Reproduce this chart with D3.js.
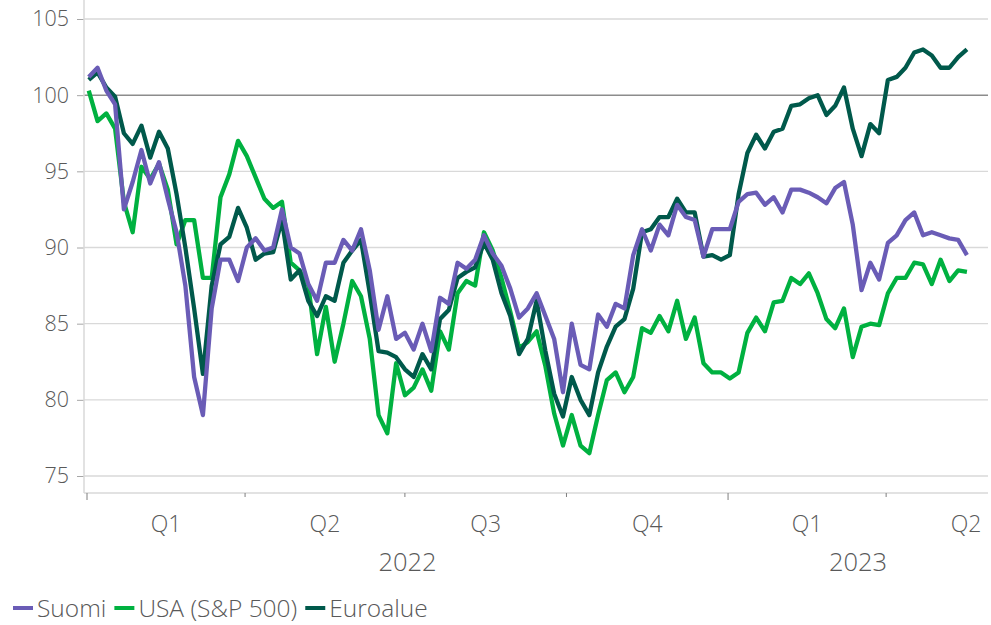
<!DOCTYPE html>
<html>
<head>
<meta charset="utf-8">
<script src="https://cdn.jsdelivr.net/npm/d3@7"></script>
<style>
  body { margin: 0; background: #fff; }
  svg text { font-family: "Open Sans", sans-serif; font-weight: 300; fill: #595959; }
</style>
</head>
<body>
<div id="chart"></div>
<script>
// series sampled every 5 days starting 2 Jan 2022
const startDate = new Date(2022, 0, 2);
const stepDays = 5;

const suomi = [101.2, 101.8, 100.3, 99.4, 92.5, 94.3, 96.4, 94.2, 95.6, 93.2,
  91.0, 87.5, 81.5, 79.0, 86.0, 89.2, 89.2, 87.8, 90.0, 90.6,
  89.8, 90.0, 92.5, 90.0, 89.6, 87.6, 86.5, 89.0, 89.0, 90.5,
  89.8, 91.2, 88.5, 84.6, 86.8, 84.0, 84.4, 83.3, 85.0, 83.2,
  86.7, 86.3, 89.0, 88.6, 89.2, 90.8, 89.6, 88.8, 87.3, 85.4,
  86.0, 87.0, 85.5, 84.0, 80.5, 85.0, 82.3, 82.0, 85.6, 84.8,
  86.3, 86.0, 89.5, 91.2, 89.8, 91.5, 90.8, 92.8, 92.0, 91.8,
  89.4, 91.2, 91.2, 91.2, 93.0, 93.5, 93.6, 92.8, 93.3, 92.3,
  93.8, 93.8, 93.6, 93.3, 92.9, 93.9, 94.3, 91.5, 87.2, 89.0,
  87.9, 90.3, 90.8, 91.8, 92.3, 90.8, 91.0, 90.8, 90.6, 90.5, 89.5];

const usa = [100.3, 98.3, 98.8, 97.8, 93.0, 91.0, 95.3, 94.5, 95.5, 93.8,
  90.2, 91.8, 91.8, 88.0, 88.0, 93.3, 94.8, 97.0, 96.0, 94.6,
  93.2, 92.6, 93.0, 89.0, 88.5, 87.5, 83.0, 86.1, 82.5, 85.0,
  87.8, 86.8, 84.0, 79.0, 77.8, 82.4, 80.3, 80.8, 82.0, 80.6,
  84.5, 83.3, 87.0, 87.8, 87.5, 91.0, 89.8, 88.0, 85.8, 83.4,
  83.8, 84.5, 82.2, 79.1, 77.0, 79.0, 77.0, 76.5, 79.0, 81.3,
  81.8, 80.5, 81.5, 84.7, 84.4, 85.5, 84.5, 86.5, 84.0, 85.4,
  82.4, 81.8, 81.8, 81.4, 81.8, 84.4, 85.4, 84.5, 86.4, 86.5,
  88.0, 87.6, 88.3, 87.0, 85.3, 84.7, 86.0, 82.8, 84.8, 85.0,
  84.9, 87.0, 88.0, 88.0, 89.0, 88.9, 87.6, 89.2, 87.8, 88.5, 88.4];

const euroalue = [101.0, 101.5, 100.5, 99.9, 97.5, 96.8, 98.0, 95.9, 97.6, 96.5,
  93.5, 90.0, 86.0, 81.7, 87.5, 90.2, 90.7, 92.6, 91.3, 89.2,
  89.6, 89.7, 91.8, 87.9, 88.5, 86.5, 85.5, 86.8, 86.5, 89.0,
  89.8, 90.5, 87.0, 83.2, 83.1, 82.8, 82.0, 81.5, 83.0, 82.0,
  85.3, 85.9, 88.0, 88.4, 88.7, 90.3, 89.2, 87.0, 85.5, 83.0,
  84.0, 86.5, 83.2, 80.4, 78.9, 81.5, 80.0, 79.0, 81.8, 83.5,
  84.8, 85.3, 87.3, 91.0, 91.2, 92.0, 92.0, 93.2, 92.3, 92.3,
  89.4, 89.5, 89.2, 89.5, 93.5, 96.2, 97.4, 96.5, 97.6, 97.8,
  99.3, 99.4, 99.8, 100.0, 98.7, 99.3, 100.5, 97.8, 96.0, 98.1,
  97.5, 101.0, 101.2, 101.8, 102.8, 103.0, 102.6, 101.8, 101.8, 102.5, 103.0];

const yTicks = [75, 80, 85, 90, 95, 100, 105];
const quarters = [
  {label: "Q1", start: "2022-01-01", end: "2022-04-01"},
  {label: "Q2", start: "2022-04-01", end: "2022-07-01"},
  {label: "Q3", start: "2022-07-01", end: "2022-10-01"},
  {label: "Q4", start: "2022-10-01", end: "2023-01-01"},
  {label: "Q1", start: "2023-01-01", end: "2023-04-01"},
  {label: "Q2", start: "2023-04-01", end: "2023-07-01"}
];
const years = [
  {label: "2022", start: "2022-01-01", end: "2023-01-01"},
  {label: "2023", start: "2023-01-01", end: "2023-05-29"}
];

const seriesList = [
  {name: "Suomi", values: suomi, color: "#6a5cb6"},
  {name: "USA (S&P 500)", values: usa, color: "#00b140"},
  {name: "Euroalue", values: euroalue, color: "#00594b"}
];

const W = 991, H = 625;
const plot = {left: 84, right: 988, top: 0, bottom: 493};

const svg = d3.select("#chart").append("svg")
  .attr("width", W).attr("height", H);

const parse = d3.timeParse("%Y-%m-%d");
const x = d3.scaleTime()
  .domain([parse("2022-01-01"), parse("2023-05-29")])
  .range([87, plot.right]);
const y = d3.scaleLinear().domain([75, 105]).range([476, 19]);

// gridlines
svg.append("g").selectAll("line")
  .data(yTicks).join("line")
  .attr("x1", plot.left).attr("x2", plot.right)
  .attr("y1", d => y(d)).attr("y2", d => y(d))
  .attr("stroke", d => d === 100 ? "#8c8c8c" : "#d9d9d9")
  .attr("stroke-width", d => d === 100 ? 1.5 : 1.3);

// y axis
const yAxis = svg.append("g")
  .attr("transform", `translate(${plot.left},0)`)
  .call(d3.axisLeft(y).tickValues(yTicks).tickSize(7).tickPadding(8));
yAxis.select(".domain").remove();
yAxis.selectAll(".tick line").attr("stroke", "#a6a6a6");
yAxis.selectAll(".tick text").style("font-size", "21.5px");
svg.append("line")
  .attr("x1", plot.left).attr("x2", plot.left)
  .attr("y1", plot.top).attr("y2", plot.bottom)
  .attr("stroke", "#d9d9d9").attr("stroke-width", 1.5);

// x axis
svg.append("line")
  .attr("x1", plot.left).attr("x2", plot.right)
  .attr("y1", plot.bottom).attr("y2", plot.bottom)
  .attr("stroke", "#d9d9d9").attr("stroke-width", 1.5);

const qTicks = quarters.map(q => parse(q.start));
svg.append("g").selectAll("line")
  .data(qTicks).join("line")
  .attr("x1", d => x(d)).attr("x2", d => x(d))
  .attr("y1", plot.bottom)
  .attr("y2", d => d.getMonth() === 0 ? plot.bottom + 7 : plot.bottom + 4)
  .attr("stroke", "#7f7f7f").attr("stroke-width", 1);

svg.append("g").selectAll("text")
  .data(quarters).join("text")
  .attr("x", d => (x(parse(d.start)) + x(parse(d.end))) / 2)
  .attr("y", 532)
  .attr("text-anchor", "middle")
  .style("font-size", "23px")
  .text(d => d.label);

svg.append("g").selectAll("text")
  .data(years).join("text")
  .attr("x", d => (x(parse(d.start)) + x(parse(d.end))) / 2)
  .attr("y", 571)
  .attr("text-anchor", "middle")
  .style("font-size", "25.5px")
  .text(d => d.label);

// lines
const line = d3.line()
  .x((d, i) => x(d3.timeDay.offset(startDate, i * stepDays)))
  .y(d => y(d));

const drawOrder = [seriesList[1], seriesList[2], seriesList[0]];
svg.append("g").selectAll("path")
  .data(drawOrder).join("path")
  .attr("d", d => line(d.values))
  .attr("fill", "none")
  .attr("stroke", d => d.color)
  .attr("stroke-width", 4.3)
  .attr("stroke-linejoin", "round");

// legend
const legend = svg.append("g").attr("transform", "translate(13,608)");
let lx = 0;
seriesList.forEach(s => {
  legend.append("line")
    .attr("x1", lx).attr("x2", lx + 20)
    .attr("y1", 0).attr("y2", 0)
    .attr("stroke", s.color).attr("stroke-width", 4);
  const t = legend.append("text")
    .attr("x", lx + 24).attr("y", 9)
    .style("font-size", "24.5px")
    .text(s.name);
  lx += 24 + t.node().getComputedTextLength() + 8;
});
</script>
</body>
</html>
